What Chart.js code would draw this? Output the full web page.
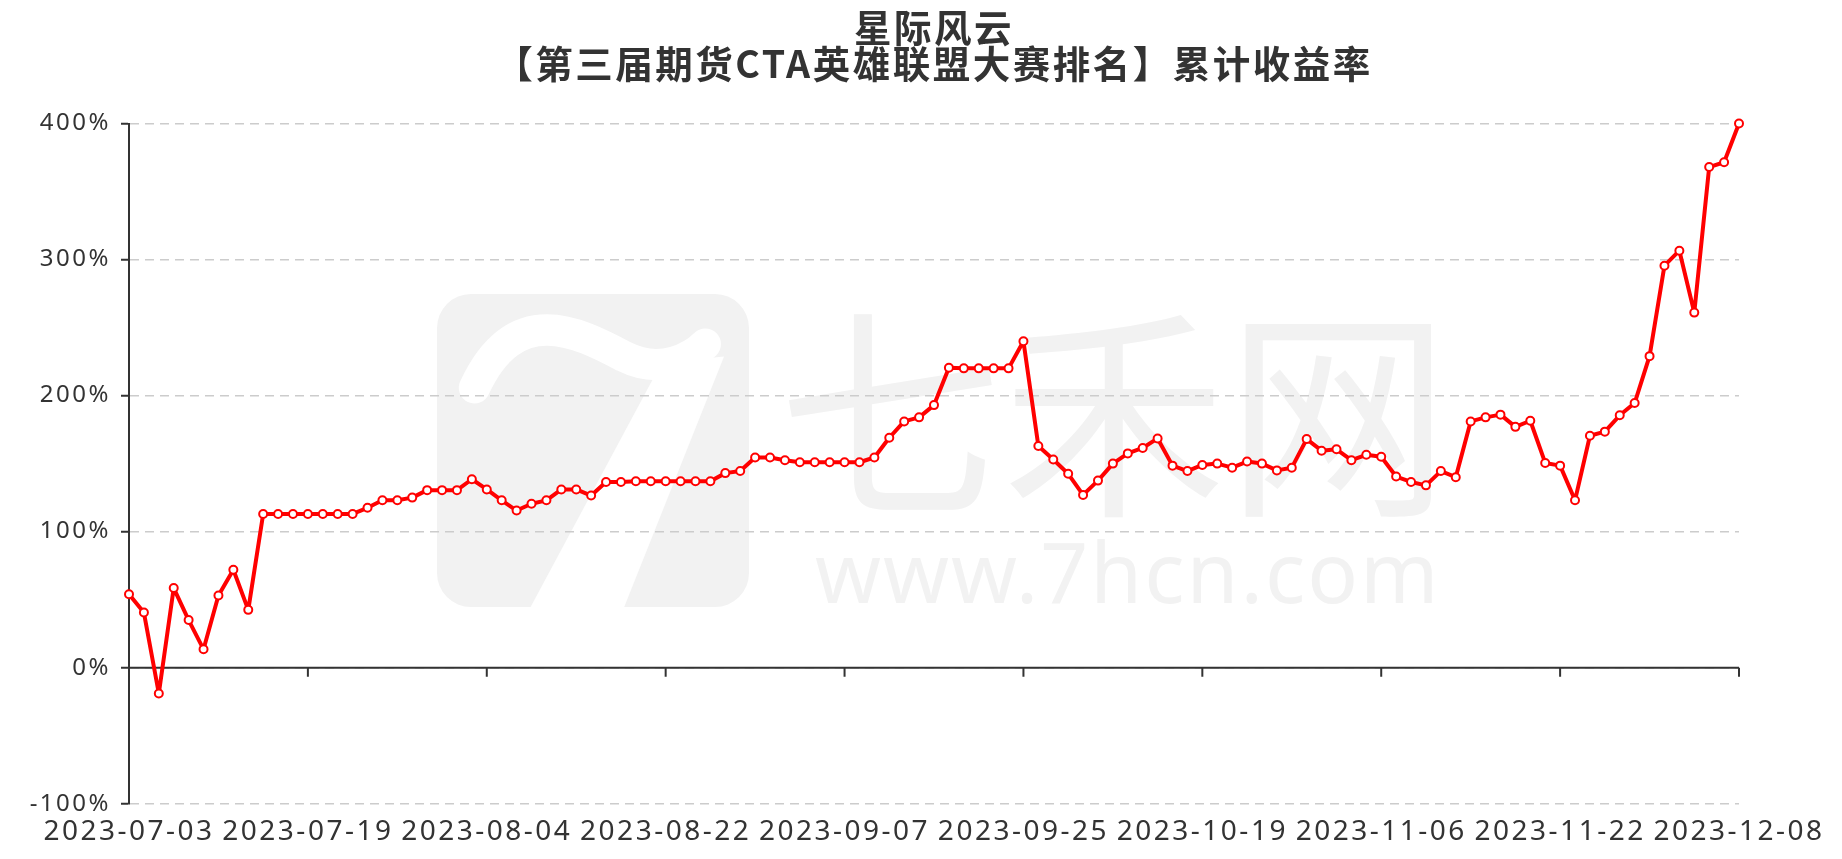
<!DOCTYPE html>
<html>
<head>
<meta charset="utf-8">
<title>星际风云 累计收益率</title>
<script src="https://cdn.jsdelivr.net/npm/chart.js@4/dist/chart.umd.min.js"></script>
<style>
  html, body { margin: 0; padding: 0; background: #fff; }
  #wrap { width: 1842px; height: 859px; position: relative; }
</style>
</head>
<body>
<div id="wrap"><canvas id="return-chart"></canvas></div>
<script>
const titleLines = ["星际风云", "【第三届期货CTA英雄联盟大赛排名】累计收益率"];

const dates = [
  "2023-07-03", "2023-07-04", "2023-07-05", "2023-07-06", "2023-07-07",
  "2023-07-10", "2023-07-11", "2023-07-12", "2023-07-13", "2023-07-14",
  "2023-07-17", "2023-07-18", "2023-07-19", "2023-07-20", "2023-07-21",
  "2023-07-24", "2023-07-25", "2023-07-26", "2023-07-27", "2023-07-28",
  "2023-07-31", "2023-08-01", "2023-08-02", "2023-08-03", "2023-08-04",
  "2023-08-07", "2023-08-08", "2023-08-09", "2023-08-10", "2023-08-11",
  "2023-08-14", "2023-08-15", "2023-08-16", "2023-08-17", "2023-08-18",
  "2023-08-21", "2023-08-22", "2023-08-23", "2023-08-24", "2023-08-25",
  "2023-08-28", "2023-08-29", "2023-08-30", "2023-08-31", "2023-09-01",
  "2023-09-04", "2023-09-05", "2023-09-06", "2023-09-07", "2023-09-08",
  "2023-09-11", "2023-09-12", "2023-09-13", "2023-09-14", "2023-09-15",
  "2023-09-18", "2023-09-19", "2023-09-20", "2023-09-21", "2023-09-22",
  "2023-09-25", "2023-09-26", "2023-09-27", "2023-09-28", "2023-10-09",
  "2023-10-10", "2023-10-11", "2023-10-12", "2023-10-13", "2023-10-16",
  "2023-10-17", "2023-10-18", "2023-10-19", "2023-10-20", "2023-10-23",
  "2023-10-24", "2023-10-25", "2023-10-26", "2023-10-27", "2023-10-30",
  "2023-10-31", "2023-11-01", "2023-11-02", "2023-11-03", "2023-11-06",
  "2023-11-07", "2023-11-08", "2023-11-09", "2023-11-10", "2023-11-13",
  "2023-11-14", "2023-11-15", "2023-11-16", "2023-11-17", "2023-11-20",
  "2023-11-21", "2023-11-22", "2023-11-23", "2023-11-24", "2023-11-27",
  "2023-11-28", "2023-11-29", "2023-11-30", "2023-12-01", "2023-12-04",
  "2023-12-05", "2023-12-06", "2023-12-07", "2023-12-08",
];

// cumulative return, %
const returns = [
  54, 40.5, -19, 58.5, 35, 13.5, 53, 72, 42.5, 113,
  113, 113, 113, 113, 113, 113, 117.5, 123, 123, 125,
  130.5, 130.5, 130.5, 138.5, 131, 123, 115.5, 120.5, 123, 131,
  131, 126.5, 136.5, 136.5, 137, 137, 137, 137, 137, 137,
  143, 144.5, 154.5, 154.5, 152.5, 151, 151, 151, 151, 151,
  154.5, 169, 181, 184, 193, 220.5, 220, 220, 220, 220,
  240, 163, 153, 142.5, 127, 137.5, 150, 157.5, 161.5, 168.5,
  148.5, 144.5, 149, 150, 147, 151.5, 150, 145, 147, 168,
  159.5, 160.5, 152.5, 156.5, 155, 140.5, 136.5, 134, 144.5, 140,
  181, 184, 186, 177, 181.5, 150.5, 148.5, 123, 170.5, 173.5,
  185.5, 194.5, 229, 295.5, 306.5, 261, 368, 371.5, 400,
];

const yTicks = [-100, 0, 100, 200, 300, 400];
const labelEvery = 12;

const watermarkName = "七禾网";
const watermarkSite = "www.7hcn.com";

// letter spacing is part of the context state, so it gets reset on resize
const spacing = {
  id: "spacing",
  beforeUpdate(chart) { chart.ctx.letterSpacing = "2.5px"; },
  beforeDraw(chart) { chart.ctx.letterSpacing = "2.5px"; },
};

// faint site watermark behind everything
const watermark = {
  id: "watermark",
  beforeDraw(chart) {
    const ctx = chart.ctx;
    ctx.save();
    ctx.fillStyle = "#f2f2f2";
    // logo block
    const lx = 437, ly = 294, lw = 312, lh = 313;
    ctx.beginPath();
    ctx.roundRect(lx, ly, lw, lh, 34);
    ctx.fill();
    ctx.fillStyle = "#fff";
    ctx.strokeStyle = "#fff";
    ctx.lineWidth = lh * 0.1;
    ctx.lineCap = "round";
    ctx.beginPath();
    ctx.moveTo(lx + lw * 0.12, ly + lh * 0.3);
    ctx.bezierCurveTo(lx + lw * 0.25, ly + lh * 0.02, lx + lw * 0.45, ly + lh * 0.12, lx + lw * 0.6, ly + lh * 0.2);
    ctx.bezierCurveTo(lx + lw * 0.72, ly + lh * 0.26, lx + lw * 0.82, ly + lh * 0.2, lx + lw * 0.86, ly + lh * 0.16);
    ctx.stroke();
    ctx.beginPath();
    ctx.moveTo(lx + lw * 0.72, ly + lh * 0.22);
    ctx.lineTo(lx + lw * 0.92, ly + lh * 0.2);
    ctx.lineTo(lx + lw * 0.6, ly + lh);
    ctx.lineTo(lx + lw * 0.3, ly + lh);
    ctx.closePath();
    ctx.fill();
    // text
    ctx.fillStyle = "#f2f2f2";
    ctx.textBaseline = "alphabetic";
    ctx.textAlign = "left";
    ctx.letterSpacing = "0px";
    ctx.font = '224px "Noto Sans CJK SC"';
    ctx.fillText(watermarkName, 778, 499);
    ctx.letterSpacing = "2px";
    ctx.font = '84px "Noto Sans"';
    ctx.fillText(watermarkSite, 815, 603);
    ctx.restore();
  },
};

// echarts-style x axis line crossing at zero, with its tick marks
const zeroAxis = {
  id: "zeroAxis",
  beforeDatasetsDraw(chart) {
    const ctx = chart.ctx;
    const area = chart.chartArea;
    const x = chart.scales.x;
    const y0 = chart.scales.y.getPixelForValue(0);
    ctx.save();
    ctx.strokeStyle = "#333";
    ctx.lineWidth = 2;
    ctx.beginPath();
    ctx.moveTo(area.left, y0);
    ctx.lineTo(area.right, y0);
    for (let i = 0; i < dates.length; i += labelEvery) {
      const px = x.getPixelForValue(i);
      ctx.moveTo(px, y0);
      ctx.lineTo(px, y0 + 9);
    }
    ctx.stroke();
    ctx.restore();
  },
};

Chart.defaults.font.family = '"Noto Sans", "Noto Sans CJK SC", sans-serif';
Chart.defaults.color = "#333";

const chart = new Chart(
  document.getElementById("return-chart").getContext("2d"),
  {
    type: "line",
    data: {
      labels: dates,
      datasets: [
        {
          label: "累计收益率",
          data: returns,
          borderColor: "#ff0000",
          borderWidth: 4,
          borderJoinStyle: "round",
          pointRadius: 4,
          pointBorderWidth: 2,
          pointBackgroundColor: "#fff",
          pointBorderColor: "#ff0000",
          tension: 0,
          fill: false,
          clip: false,
        },
      ],
    },
    options: {
      animation: false,
      responsive: true,
      maintainAspectRatio: false,
      layout: { padding: { left: 0, right: 103, top: 0, bottom: 0 } },
      plugins: {
        legend: { display: false },
        tooltip: { enabled: false },
        title: {
          display: true,
          text: titleLines,
          fullSize: false,
          color: "#333",
          font: { family: '"Noto Sans CJK SC"', size: 37.5, weight: "bold", lineHeight: "36px" },
          padding: { top: 10, bottom: 41.5 },
        },
      },
      scales: {
        x: {
          offset: false,
          grid: { display: false, drawTicks: false },
          border: { display: false },
          afterFit: (scale) => { scale.height = 55.3; },
          ticks: {
            autoSkip: false,
            maxRotation: 0,
            minRotation: 0,
            padding: 12,
            font: { size: 28 },
            callback: (value, index) => (index % labelEvery === 0 ? dates[index] : ""),
          },
        },
        y: {
          min: yTicks[0],
          max: yTicks[yTicks.length - 1],
          afterFit: (scale) => { scale.width = 129; },
          afterBuildTicks: (scale) => { scale.ticks = yTicks.map((v) => ({ value: v })); },
          grid: {
            color: "#cccccc",
            lineWidth: 1.5,
            tickColor: "#333",
            tickLength: 8,
            tickWidth: 2,
            tickBorderDash: [],
          },
          border: { display: true, color: "#333", width: 2, dash: [9, 6] },
          ticks: {
            padding: 10,
            font: { size: 24 },
            callback: (v) => v + "%",
          },
        },
      },
    },
    plugins: [spacing, watermark, zeroAxis],
  }
);
</script>
</body>
</html>
